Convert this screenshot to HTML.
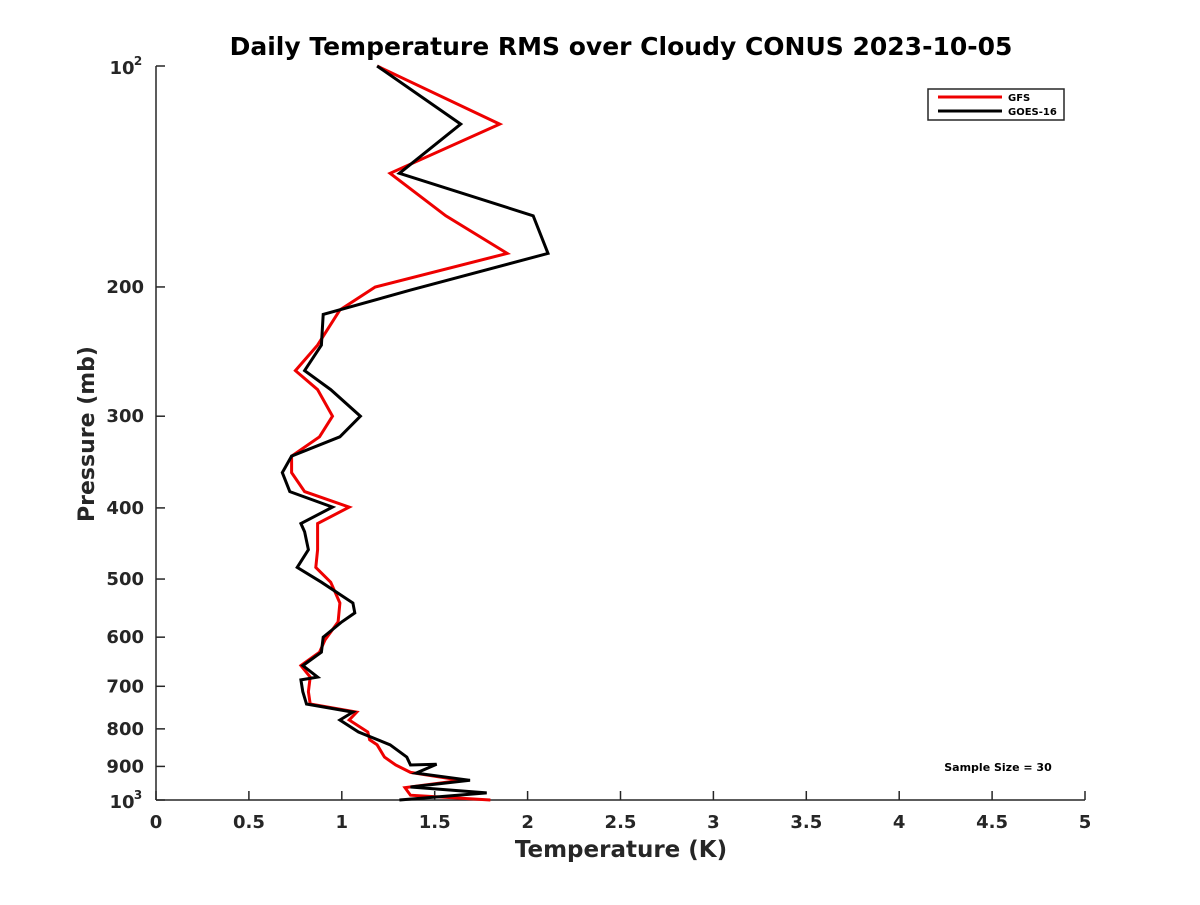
<!DOCTYPE html>
<html><head><meta charset="utf-8"><style>
body{margin:0;background:#fff;}
svg text{font-family:"DejaVu Sans","Liberation Sans",sans-serif;font-weight:bold;fill:#262626;}
</style></head><body>
<svg id="chart" width="1200" height="900" xmlns="http://www.w3.org/2000/svg">
<rect width="1200" height="900" fill="#fff"/>
<text x="621" y="55" font-size="25" text-anchor="middle" style="fill:#000">Daily Temperature RMS over Cloudy CONUS 2023-10-05</text>
<g id="axes"></g>
<g id="series"></g>
<g>
<rect x="928" y="89" width="136" height="31" fill="#fff" stroke="#262626" stroke-width="1.5"/>
<line x1="938" y1="97" x2="1002" y2="97" stroke="#e00" stroke-width="3"/>
<text x="1008" y="101" font-size="10" style="fill:#000">GFS</text>
<line x1="938" y1="111" x2="1002" y2="111" stroke="#000" stroke-width="3"/>
<text x="1008" y="115" font-size="10" style="fill:#000">GOES-16</text>
</g>
<text x="998" y="771" font-size="11" text-anchor="middle" style="fill:#000">Sample Size = 30</text>
<text x="621" y="857" font-size="23" text-anchor="middle">Temperature (K)</text>
<text x="0" y="0" font-size="22" text-anchor="middle" transform="translate(94,434) rotate(-90)">Pressure (mb)</text>
</svg>
<script>
const xTicks=[0,0.5,1,1.5,2,2.5,3,3.5,4,4.5,5];
const xTickLabels=["0","0.5","1","1.5","2","2.5","3","3.5","4","4.5","5"];
const yTicks=[200,300,400,500,600,700,800,900];
const gfsPressure=[100,120,140,160,180,200,215,240,260,276,300,320,340,358,380,399,420,456,482,505,539,572,605,629,656,680,712,740,759,778,808,828,841,874,896,917,940,962,985,1000];
const gfsRms=[1.19,1.85,1.26,1.56,1.89,1.18,0.99,0.87,0.75,0.87,0.95,0.88,0.73,0.73,0.80,1.04,0.87,0.87,0.86,0.94,0.99,0.98,0.91,0.88,0.78,0.83,0.82,0.83,1.08,1.04,1.14,1.15,1.19,1.23,1.29,1.37,1.64,1.34,1.37,1.80];
const goesPressure=[100,120,140,160,180,202,218,240,260,276,300,320,340,358,380,399,420,431,456,482,505,539,556,572,600,629,656,680,686,712,740,759,778,808,841,874,896,894,919,940,960,978,1000];
const goesRms=[1.19,1.64,1.31,2.03,2.11,1.37,0.90,0.89,0.80,0.94,1.10,0.99,0.73,0.68,0.72,0.95,0.78,0.80,0.82,0.76,0.89,1.06,1.07,1.00,0.90,0.89,0.79,0.87,0.78,0.79,0.81,1.06,0.99,1.09,1.26,1.35,1.37,1.51,1.40,1.69,1.37,1.78,1.31];
const L=156,R=1085,T=66,B=800;
const xS=v=>L+(R-L)*v/5;
const yS=p=>T+(B-T)*Math.log10(p/100);
const NS="http://www.w3.org/2000/svg";
function mk(tag,attrs,parent){const e=document.createElementNS(NS,tag);for(const k in attrs)e.setAttribute(k,attrs[k]);parent.appendChild(e);return e;}
const ax=document.getElementById('axes');
let a=mk('line',{x1:L,y1:B,x2:R,y2:B,stroke:'#262626','stroke-width':1.5},ax);


a=mk('line',{x1:L,y1:T,x2:L,y2:B,stroke:'#262626','stroke-width':1.5},ax);


xTicks.forEach((v,i)=>{
  mk('line',{x1:xS(v),y1:B,x2:xS(v),y2:B-9,stroke:'#262626','stroke-width':1.5},ax);
  const t=mk('text',{x:xS(v),y:B+28,'font-size':18,'text-anchor':'middle'},ax);
  t.textContent=xTickLabels[i];
  
  
});
[100,1000].concat(yTicks).forEach(p=>{
  mk('line',{x1:L,y1:yS(p),x2:L+9,y2:yS(p),stroke:'#262626','stroke-width':1.5},ax);
});
yTicks.forEach(p=>{
  const t=mk('text',{x:L-12,y:yS(p)+6,'font-size':18,'text-anchor':'end'},ax);
  t.textContent=String(p);
  
  
});
[[100,"2"],[1000,"3"]].forEach(([p,e])=>{
  const t=mk('text',{x:L-34,y:yS(p)+8,'font-size':18,'text-anchor':'middle'},ax);
  t.textContent="10";
  
  
  const s=mk('text',{x:L-18,y:yS(p)-1,'font-size':12,'text-anchor':'middle'},ax);
  s.textContent=e;
});
const sg=document.getElementById('series');
function line(ps,vs,color,name){
  const pts=ps.map((p,i)=>xS(vs[i]).toFixed(1)+','+yS(p).toFixed(1)).join(' ');
  const l=mk('polyline',{points:pts,fill:'none',stroke:color,'stroke-width':3,'stroke-linejoin':'miter'},sg);
  
  
}
line(gfsPressure,gfsRms,'#e00','gfs-line');
line(goesPressure,goesRms,'#000','goes16-line');
</script>
</body></html>
